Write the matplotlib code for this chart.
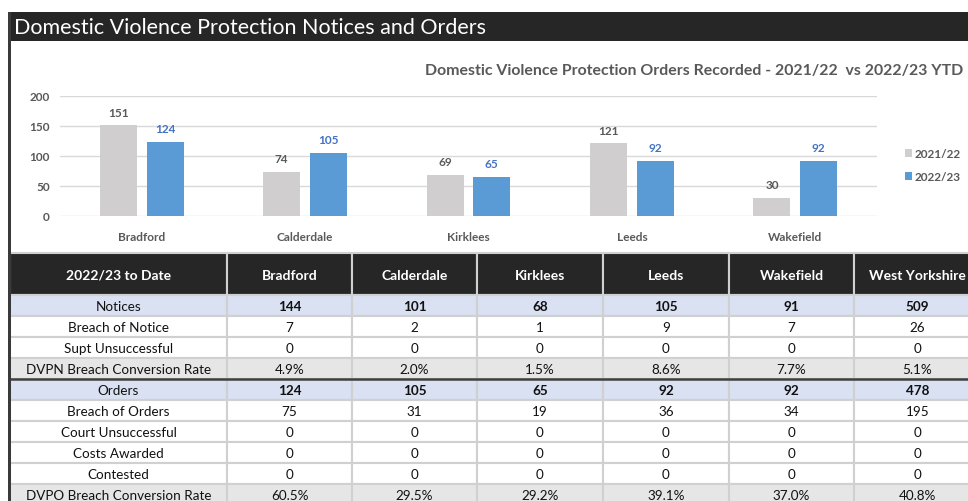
import matplotlib
matplotlib.use("Agg")
import matplotlib.pyplot as plt
from matplotlib.patches import Rectangle
import numpy as np

plt.rcParams['font.family'] = ['Lato', 'DejaVu Sans']

# ---------------- data ----------------
page_title = "Domestic Violence Protection Notices and Orders"
chart_title = "Domestic Violence Protection Orders Recorded - 2021/22  vs 2022/23 YTD"
districts = ["Bradford", "Calderdale", "Kirklees", "Leeds", "Wakefield"]
orders_2021_22 = [151, 74, 69, 121, 30]
orders_2022_23 = [124, 105, 65, 92, 92]
series_labels = ["2021/22", "2022/23"]
y_ticks = [0, 50, 100, 150, 200]

table_corner = "2022/23 to Date"
table_columns = ["Bradford", "Calderdale", "Kirklees", "Leeds", "Wakefield", "West Yorkshire"]
row_labels = ["Notices", "Breach of Notice", "Supt Unsuccessful", "DVPN Breach Conversion Rate",
              "Orders", "Breach of Orders", "Court Unsuccessful", "Costs Awarded", "Contested",
              "DVPO Breach Conversion Rate"]
row_kinds = ["total", "plain", "plain", "rate", "total", "plain", "plain", "plain", "plain", "rate"]
notices = ["144", "101", "68", "105", "91", "509"]
breach_of_notice = ["7", "2", "1", "9", "7", "26"]
supt_unsuccessful = ["0", "0", "0", "0", "0", "0"]
dvpn_rate = ["4.9%", "2.0%", "1.5%", "8.6%", "7.7%", "5.1%"]
orders = ["124", "105", "65", "92", "92", "478"]
breach_of_orders = ["75", "31", "19", "36", "34", "195"]
court_unsuccessful = ["0", "0", "0", "0", "0", "0"]
costs_awarded = ["0", "0", "0", "0", "0", "0"]
contested = ["0", "0", "0", "0", "0", "0"]
dvpo_rate = ["60.5%", "29.5%", "29.2%", "39.1%", "37.0%", "40.8%"]
table_values = [notices, breach_of_notice, supt_unsuccessful, dvpn_rate, orders,
                breach_of_orders, court_unsuccessful, costs_awarded, contested, dvpo_rate]

# ---------------- styles / layout ----------------
W, H = 968, 502
dark = "#262626"
grey_bar = "#d0cece"
blue_bar = "#5b9bd5"
axis_text = "#595959"
blue_text = "#4472c4"
kind_fill = {"total": "#d9e1f2", "plain": "#ffffff", "rate": "#e7e6e6"}

fig = plt.figure(figsize=(W / 100, H / 100), dpi=100)
fig.patch.set_facecolor("white")

# background / frame layer in pixel coordinates
bg = fig.add_axes([0, 0, 1, 1])
bg.set_xlim(0, W)
bg.set_ylim(H, 0)
bg.axis("off")
bg.add_patch(Rectangle((8, 13), W - 8, 29, facecolor=dark, edgecolor="none"))
bg.text(14, 28.5, page_title, color="white", fontsize=15.5, va="center", ha="left")
bg.text(694, 70.5, chart_title, color=axis_text, fontsize=11.4, fontweight="bold",
        va="center", ha="center")

# ---------------- bar chart ----------------
ax = fig.add_axes([60 / W, (H - 217) / H, 817 / W, 120 / H])
x = np.arange(len(districts))
bw = 0.226
off = 0.143
b1 = ax.bar(x - off, orders_2021_22, bw, color=grey_bar, label=series_labels[0], zorder=3)
b2 = ax.bar(x + off, orders_2022_23, bw, color=blue_bar, label=series_labels[1], zorder=3)
for rect, v in zip(b1, orders_2021_22):
    ax.annotate(str(v), (rect.get_x() + rect.get_width() / 2, v), xytext=(0, 5.5),
                textcoords="offset points", ha="center", va="bottom", fontsize=8.5,
                fontweight="bold", color=axis_text, annotation_clip=False)
for rect, v in zip(b2, orders_2022_23):
    ax.annotate(str(v), (rect.get_x() + rect.get_width() / 2, v), xytext=(0, 5.5),
                textcoords="offset points", ha="center", va="bottom", fontsize=8.5,
                fontweight="bold", color=blue_text, annotation_clip=False)
ax.set_xlim(-0.5, len(districts) - 0.5)
ax.set_ylim(0, 200)
ax.set_yticks(y_ticks)
ax.set_xticks(x)
ax.set_xticklabels(districts)
ax.tick_params(axis="both", length=0, colors=axis_text, labelsize=8.5)
ax.tick_params(axis="y", pad=7.5)
ax.tick_params(axis="x", pad=10.5)
for lab in ax.get_yticklabels() + ax.get_xticklabels():
    lab.set_fontweight("bold")
ax.grid(axis="y", color="#d9d9d9", linewidth=1, zorder=0)
for s in ax.spines.values():
    s.set_visible(False)
ax.set_facecolor("none")
leg = ax.legend(loc="center left", bbox_to_anchor=(894 / W, 1 - 166 / H),
                bbox_transform=fig.transFigure, frameon=False, fontsize=8.5,
                handlelength=0.65, handleheight=0.65, handletextpad=0.2, labelspacing=1.0)
for t in leg.get_texts():
    t.set_color(axis_text)
    t.set_fontweight("bold")

# ---------------- table ----------------
col_widths = [217, 125, 125, 126, 126, 125, 127]
x0 = 10
col_edges = np.concatenate([[x0], x0 + np.cumsum(col_widths)])
header_top, header_h, row_h = 254, 42, 21
cell_edge = "#d0d0d0"

headers = [table_corner] + table_columns
for j, h in enumerate(headers):
    bg.add_patch(Rectangle((col_edges[j], header_top), col_widths[j], header_h,
                           facecolor=dark, edgecolor=cell_edge, linewidth=1.5))
    bg.text((col_edges[j] + col_edges[j + 1]) / 2, header_top + header_h / 2 + 1, h,
            color="white", fontsize=10, fontweight="bold", ha="center", va="center",
            clip_on=True)

for i, (lab, kind, vals) in enumerate(zip(row_labels, row_kinds, table_values)):
    top = header_top + header_h + i * row_h
    cells = [lab] + vals
    for j, txt in enumerate(cells):
        bg.add_patch(Rectangle((col_edges[j], top), col_widths[j], row_h,
                               facecolor=kind_fill[kind], edgecolor=cell_edge, linewidth=1.5))
        weight = "bold" if (kind == "total" and j > 0) else "normal"
        bg.text((col_edges[j] + col_edges[j + 1]) / 2, top + row_h / 2 + 0.5, txt,
                color="#111111", fontsize=9.7, fontweight=weight, ha="center", va="center")

# dark separator between notices and orders blocks
sep_y = header_top + header_h + row_labels.index("Orders") * row_h
bg.plot([x0, W], [sep_y, sep_y], color="#404040", linewidth=1.8, solid_capstyle="butt")
# left frame line on top
bg.add_patch(Rectangle((8, 13), 2.5, H - 13, facecolor="#3a3a3a", edgecolor="none", zorder=5))

fig.savefig("out.png", dpi=100)
